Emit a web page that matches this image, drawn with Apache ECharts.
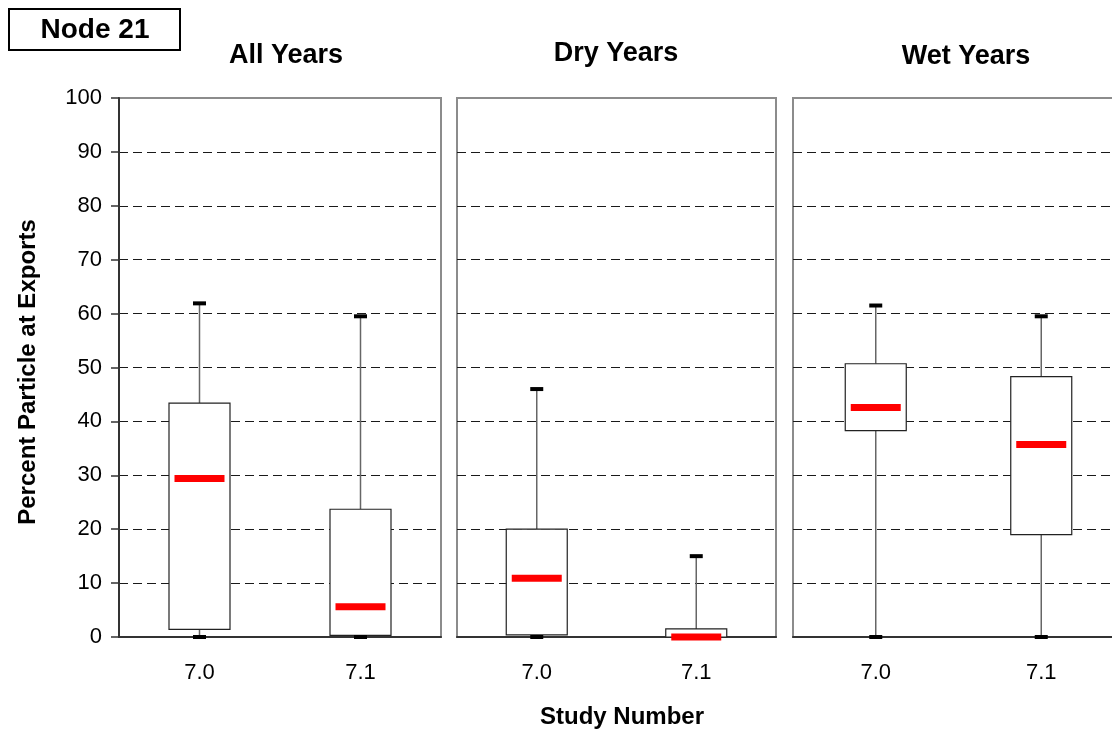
<!DOCTYPE html>
<html>
<head>
<meta charset="utf-8">
<title>Node 21 – Percent Particle at Exports</title>
<script src="https://cdn.jsdelivr.net/npm/echarts@6/dist/echarts.min.js"></script>
<style>
  html, body { margin: 0; padding: 0; background: #fff; }
  #chart { width: 1112px; height: 730px; }
</style>
</head>
<body>
<div id="chart"></div>
<script>
// Study numbers on each panel's x axis
const studies = ['7.0', '7.1'];
const panelTitles = ['All Years', 'Dry Years', 'Wet Years'];
const yTicks = [0, 100, 10]; // min, max, step

// Box statistics per study: [min, Q1, median, Q3, max]
const allYears = [
  [0, 1.4, 29.4, 43.4, 61.9],
  [0, 0.3, 5.6, 23.7, 59.5]
];
const dryYears = [
  [0, 0.4, 10.9, 20.0, 46.0],
  [0, 0.0, 0.0, 1.5, 15.0]
];
const wetYears = [
  [0, 38.3, 42.6, 50.7, 61.5],
  [0, 19.0, 35.7, 48.3, 59.5]
];

const panels = [allYears, dryYears, wetYears];

const FONT = '"Liberation Sans", Arial, Helvetica, sans-serif';

// Plot-area layout for the three side-by-side panels (the last one runs past the right edge)
const gridBoxes = [
  { left: 119, width: 322 },
  { left: 457, width: 319 },
  { left: 793, width: 331 }
];

function renderBox(params, api) {
  const idx = api.value(0);
  const lo = api.coord([idx, api.value(1)]);
  const q1 = api.coord([idx, api.value(2)]);
  const med = api.coord([idx, api.value(3)]);
  const q3 = api.coord([idx, api.value(4)]);
  const hi = api.coord([idx, api.value(5)]);
  const cx = q1[0];
  const boxW = 61;
  const medW = 50;
  const capW = 13;
  const capH = 4;
  const medH = 7;
  return {
    type: 'group',
    children: [
      { type: 'line', shape: { x1: cx, y1: hi[1], x2: cx, y2: q3[1] },
        style: { stroke: '#666', lineWidth: 1.5 } },
      { type: 'line', shape: { x1: cx, y1: q1[1], x2: cx, y2: lo[1] },
        style: { stroke: '#666', lineWidth: 1.5 } },
      { type: 'rect', shape: { x: cx - boxW / 2, y: q3[1], width: boxW, height: q1[1] - q3[1] },
        style: { fill: '#fff', stroke: '#222', lineWidth: 1.2 } },
      { type: 'rect', shape: { x: cx - capW / 2, y: hi[1] - capH / 2, width: capW, height: capH },
        style: { fill: '#000' } },
      { type: 'rect', shape: { x: cx - capW / 2, y: lo[1] - capH / 2, width: capW, height: capH },
        style: { fill: '#000' } },
      { type: 'rect', shape: { x: cx - medW / 2, y: med[1] - medH / 2, width: medW, height: medH },
        style: { fill: '#ff0000' } }
    ]
  };
}

const grid = gridBoxes.map(g => ({
  left: g.left, width: g.width, top: 98, height: 539,
  outerBoundsMode: 'none',
  containLabel: false,
  show: true, borderColor: '#8c8c8c', borderWidth: 2, backgroundColor: 'transparent'
}));

const xAxis = panels.map((p, i) => ({
  type: 'category',
  gridIndex: i,
  data: studies,
  axisLine: { lineStyle: { color: '#333', width: 2 } },
  axisTick: { length: 8, lineStyle: { color: '#333', width: 1.5 } },
  axisLabel: { fontSize: 22, color: '#000', fontFamily: FONT, margin: 25 },
  splitLine: { show: false }
}));

const yAxis = panels.map((p, i) => ({
  type: 'value',
  gridIndex: i,
  min: yTicks[0], max: yTicks[1], interval: yTicks[2],
  axisLine: { show: i === 0, lineStyle: { color: '#333', width: 2 } },
  axisTick: { show: i === 0, length: 8, lineStyle: { color: '#333', width: 1.5 } },
  axisLabel: { show: i === 0, fontSize: 22, color: '#000', fontFamily: FONT, margin: 17 },
  splitLine: {
    show: true, showMinLine: false, showMaxLine: false,
    lineStyle: { type: [9, 5], color: '#1a1a1a', width: 1 }
  }
}));

const series = panels.map((p, i) => ({
  type: 'custom',
  xAxisIndex: i,
  yAxisIndex: i,
  renderItem: renderBox,
  clip: false,
  encode: { x: 0, y: [1, 2, 3, 4, 5] },
  data: p.map((s, k) => [k].concat(s))
}));

const titleCenters = [[286, 56], [616, 54], [966, 57]];

const graphic = [
  { type: 'rect', shape: { x: 9, y: 9, width: 171, height: 41 },
    style: { fill: '#fff', stroke: '#000', lineWidth: 2 } },
  { type: 'text', x: 95, y: 30,
    style: { text: 'Node 21', font: 'bold 28px ' + FONT, fill: '#000', align: 'center', verticalAlign: 'middle' } },
  ...panelTitles.map((t, i) => ({
    type: 'text', x: titleCenters[i][0], y: titleCenters[i][1],
    style: { text: t, font: 'bold 27px ' + FONT, fill: '#000', align: 'center', verticalAlign: 'middle' }
  })),
  { type: 'text', x: 28, y: 372, rotation: Math.PI / 2,
    style: { text: 'Percent Particle at Exports', font: 'bold 24px ' + FONT, fill: '#000', align: 'center', verticalAlign: 'middle' } },
  { type: 'text', x: 622, y: 717,
    style: { text: 'Study Number', font: 'bold 24px ' + FONT, fill: '#000', align: 'center', verticalAlign: 'middle' } }
];

const chart = echarts.init(document.getElementById('chart'), null, { renderer: 'canvas' });
chart.setOption({
  animation: false,
  backgroundColor: '#fff',
  grid, xAxis, yAxis, series, graphic
});
</script>
</body>
</html>
